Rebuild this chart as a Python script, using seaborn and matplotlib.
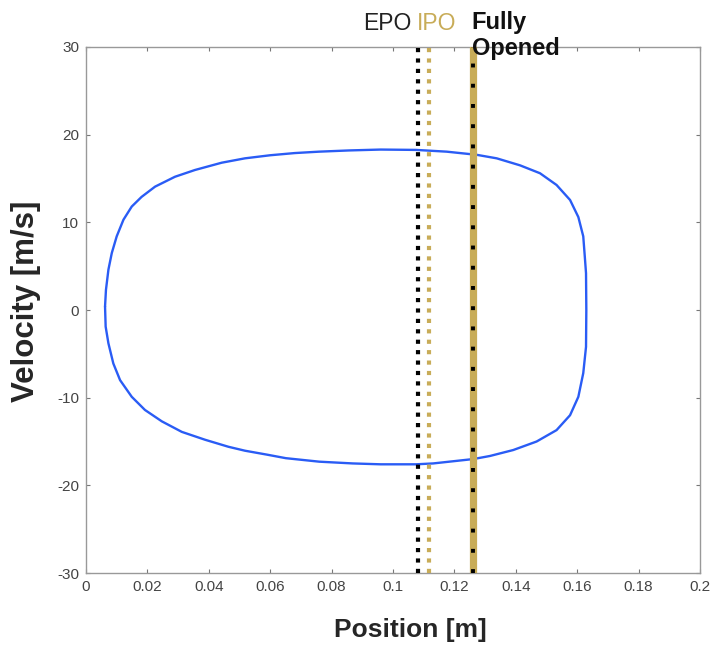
import numpy as np
import pandas as pd
import matplotlib
matplotlib.use("Agg")
import matplotlib.pyplot as plt
from matplotlib import font_manager
import seaborn as sns

# Phase-portrait loop (position [m], velocity [m/s]), traced clockwise
position = [0.0062, 0.0065, 0.0073, 0.0084, 0.0100, 0.0122, 0.0149, 0.0181, 0.0225,
            0.0290, 0.0355, 0.0442, 0.0518, 0.0600, 0.0680, 0.0759, 0.0857, 0.0960,
            0.1075, 0.1175, 0.1273, 0.1338, 0.1414, 0.1479, 0.1533, 0.1577, 0.1604,
            0.1620, 0.1625, 0.1629, 0.1630, 0.1629, 0.1620, 0.1604, 0.1577, 0.1533,
            0.1468, 0.1392, 0.1316, 0.1262, 0.1131, 0.1075, 0.0960, 0.0869, 0.0760,
            0.0651, 0.0590, 0.0518, 0.0464, 0.0388, 0.0312, 0.0247, 0.0192, 0.0149,
            0.0111, 0.0089, 0.0073, 0.0064, 0.0062]
velocity = [0.4, 2.3, 4.6, 6.5, 8.4, 10.3, 11.8, 12.9, 14.07,
            15.2, 15.97, 16.8, 17.3, 17.65, 17.9, 18.06, 18.2, 18.3,
            18.26, 18.06, 17.7, 17.3, 16.5, 15.6, 14.26, 12.55, 10.6,
            8.4, 6.1, 4.2, 0.0, -4.2, -7.2, -9.9, -12.0, -13.7,
            -15.0, -15.97, -16.65, -17.0, -17.5, -17.6, -17.6, -17.5, -17.3,
            -16.9, -16.5, -16.05, -15.6, -14.8, -13.9, -12.7, -11.4, -9.9,
            -8.0, -6.1, -3.8, -1.9, 0.4]

marker_names = ["EPO", "IPO", "Fully\nOpened"]
marker_positions = [0.1081, 0.1117, 0.1261]

x_ticks = [0, 0.02, 0.04, 0.06, 0.08, 0.1, 0.12, 0.14, 0.16, 0.18, 0.2]
x_tick_labels = ["0", "0.02", "0.04", "0.06", "0.08", "0.1", "0.12", "0.14", "0.16", "0.18", "0.2"]
y_ticks = [-30, -20, -10, 0, 10, 20, 30]

sns.set_theme(style="white")
plt.rcParams['font.family'] = ['Liberation Sans', 'DejaVu Sans']
plt.rcParams['axes.unicode_minus'] = False

installed = {f.name for f in font_manager.fontManager.ttflist}
narrow = ['Liberation Sans Narrow', 'Liberation Sans', 'DejaVu Sans'] \
    if 'Liberation Sans Narrow' in installed else ['Liberation Sans', 'DejaVu Sans']
xlabel_size = 22.5 if 'Liberation Sans Narrow' in installed else 19

fig = plt.figure(figsize=(7.12, 6.48), dpi=100)
ax = fig.add_axes([0.1208, 0.1157, 0.8622, 0.8118])

df = pd.DataFrame({"Position": position, "Velocity": velocity})
sns.lineplot(data=df, x="Position", y="Velocity", sort=False, estimator=None,
             color="#2a5cf5", lw=1.7, ax=ax)

gold = "#c8ac58"
# EPO: black dotted
ax.axvline(marker_positions[0], color="black", lw=3, linestyle=(0, (1, 1.5)),
           dash_capstyle="butt", zorder=3)
# IPO: gold dotted
ax.axvline(marker_positions[1], color=gold, lw=3, linestyle=(0, (1, 1.5)),
           dash_capstyle="butt", zorder=3)
# Fully opened: gold band with black dots
ax.axvline(marker_positions[2], color=gold, lw=5.2, zorder=3)
ax.axvline(marker_positions[2], color="black", lw=2.8, linestyle=(0, (1, 4.2)),
           dash_capstyle="butt", zorder=4)

ax.set_xlim(0, 0.2)
ax.set_ylim(-30, 30)
ax.set_xticks(x_ticks)
ax.set_xticklabels(x_tick_labels)
ax.set_yticks(y_ticks)

for s in ax.spines.values():
    s.set_color("#999999")
    s.set_linewidth(1.0)
ax.tick_params(axis="both", which="both", direction="in", length=3, width=0.8,
               color="#777777", labelsize=11, labelcolor="#444444",
               top=True, right=True, bottom=True, left=True, pad=5)

ax.set_xlabel("Position [m]", fontsize=xlabel_size, fontweight="bold", family=narrow)
ax.set_ylabel("Velocity [m/s]", fontsize=22.5, fontweight="bold")
ax.xaxis.set_label_coords(0.529, -0.085)
ax.yaxis.set_label_coords(-0.073, 0.517)

# Labels above the vertical markers
xt = ax.get_xaxis_transform()
ax.text(0.1059, 1.022, marker_names[0], transform=xt,
        ha="right", va="bottom", fontsize=16.5, color="#222222")
ax.text(0.1079, 1.022, marker_names[1], transform=xt,
        ha="left", va="bottom", fontsize=16.5, color=gold)
ax.text(0.1256, 0.975, marker_names[2], transform=xt,
        ha="left", va="bottom", fontsize=17, fontweight="bold", color="#111111",
        linespacing=1.15)

fig.savefig("out.png", dpi=100)
